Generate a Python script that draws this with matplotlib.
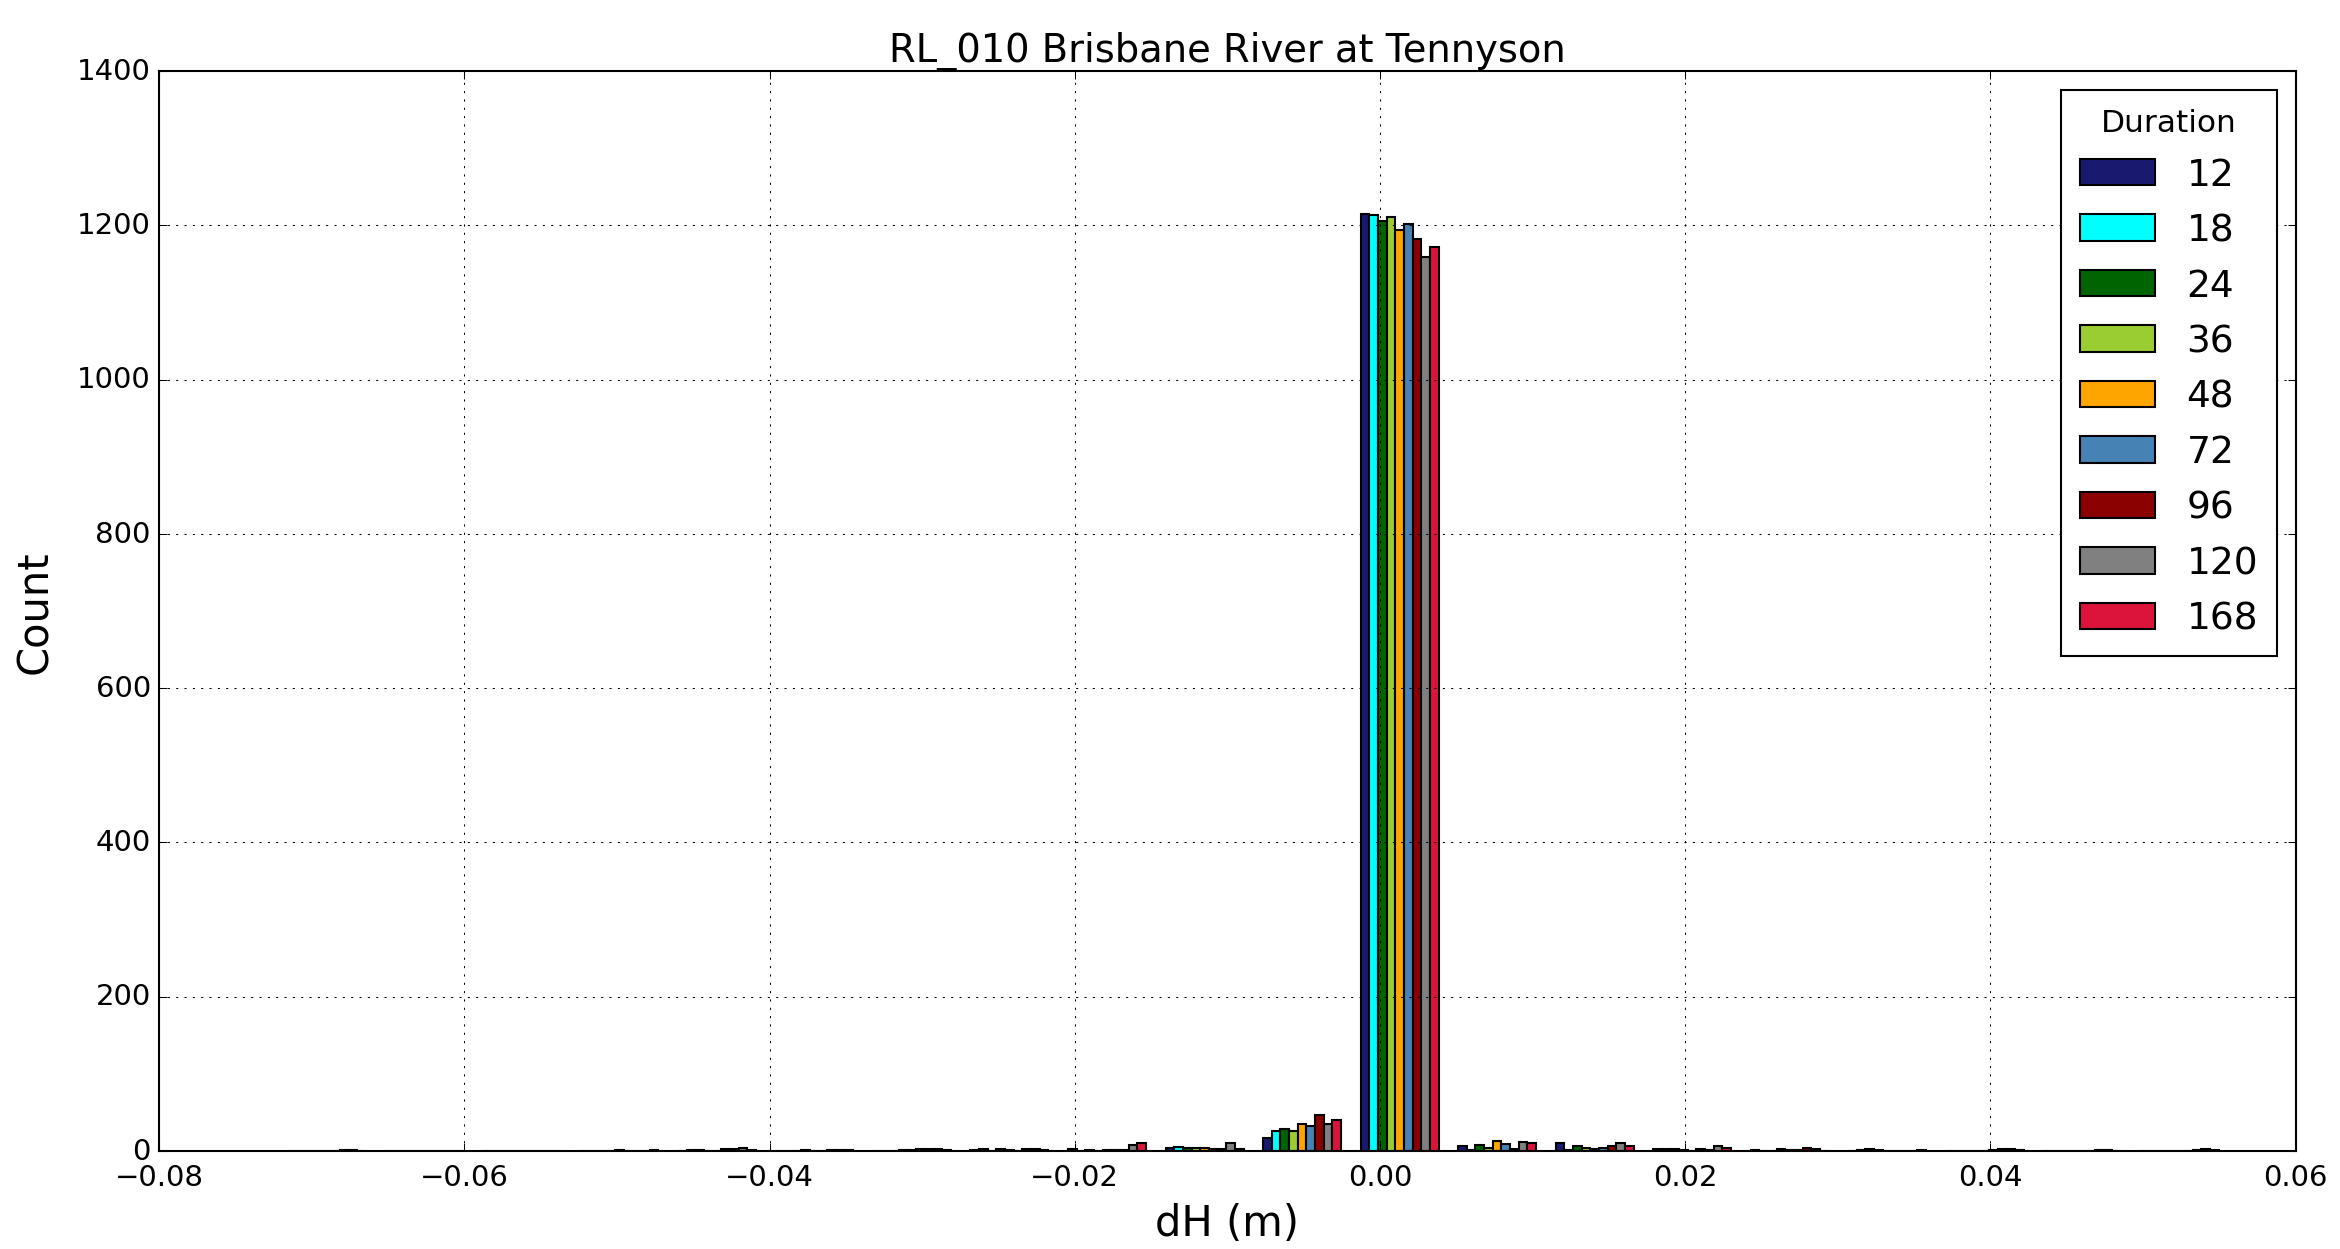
import numpy as np
import matplotlib
matplotlib.use("Agg")
from matplotlib import pyplot as plt

# histogram of dH for each storm duration (hours)
durations = ["12", "18", "24", "36", "48", "72", "96", "120", "168"]
colors = ["midnightblue", "cyan", "darkgreen", "yellowgreen", "orange",
          "steelblue", "darkred", "grey", "crimson"]

dh_min, dh_max, n_bins = -0.0722, 0.0556, 20

# counts per bin (rows = bins, columns = durations)
counts = [
    [0, 0, 0, 0, 0, 0, 1, 1, 0],
    [0, 0, 0, 0, 0, 0, 0, 0, 0],
    [0, 0, 0, 0, 0, 0, 0, 0, 0],
    [0, 0, 0, 0, 1, 0, 0, 0, 1],
    [0, 1, 1, 0, 0, 2, 2, 3, 1],
    [0, 0, 0, 1, 0, 0, 1, 1, 1],
    [0, 0, 0, 1, 1, 2, 2, 2, 1],
    [1, 2, 0, 2, 1, 0, 2, 2, 1],
    [2, 0, 1, 0, 1, 1, 1, 8, 10],
    [4, 5, 3, 3, 3, 2, 2, 10, 2],
    [16, 25, 28, 26, 35, 32, 47, 35, 40],
    [1215, 1213, 1206, 1211, 1194, 1202, 1182, 1159, 1172],
    [6, 1, 8, 3, 13, 9, 2, 11, 10],
    [10, 1, 6, 3, 2, 3, 6, 10, 6],
    [2, 2, 2, 1, 0, 2, 1, 6, 3],
    [1, 0, 0, 2, 1, 1, 3, 2, 0],
    [0, 1, 2, 1, 0, 0, 0, 0, 1],
    [0, 0, 0, 0, 0, 1, 2, 2, 1],
    [0, 0, 0, 0, 0, 0, 1, 1, 0],
    [0, 0, 0, 0, 0, 0, 1, 2, 1],
]

plt.style.use("classic")
fig = plt.figure(figsize=(15.6, 8.3333), dpi=150, facecolor="white")
ax = fig.add_subplot(111)
fig.subplots_adjust(left=0.068, right=0.981, bottom=0.0786, top=0.9424)

edges = np.linspace(dh_min, dh_max, n_bins + 1)
centers = 0.5 * (edges[:-1] + edges[1:])
weights = np.array(counts, dtype=float)
ax.hist([centers] * len(durations), bins=edges, weights=weights.T.tolist(),
        color=colors, label=durations, edgecolor="black", linewidth=1.0)

ax.set_xlim(-0.08, 0.06)
ax.set_ylim(0, 1400)
ax.grid(True)
ax.set_title("RL_010 Brisbane River at Tennyson", fontsize=18.5)
ax.set_xlabel("dH (m)", fontsize=20)
ax.set_ylabel("Count", fontsize=20, labelpad=10)
ax.tick_params(labelsize=14)
ax.tick_params(axis="x", pad=6)
leg = ax.legend(title="Duration", loc="upper right", fontsize=18,
                fancybox=False, labelspacing=0.52, handletextpad=0.85,
                borderaxespad=0.5, borderpad=0.5)
leg.get_title().set_fontsize(15)

fig.savefig("out.png", dpi=150, facecolor="white")
